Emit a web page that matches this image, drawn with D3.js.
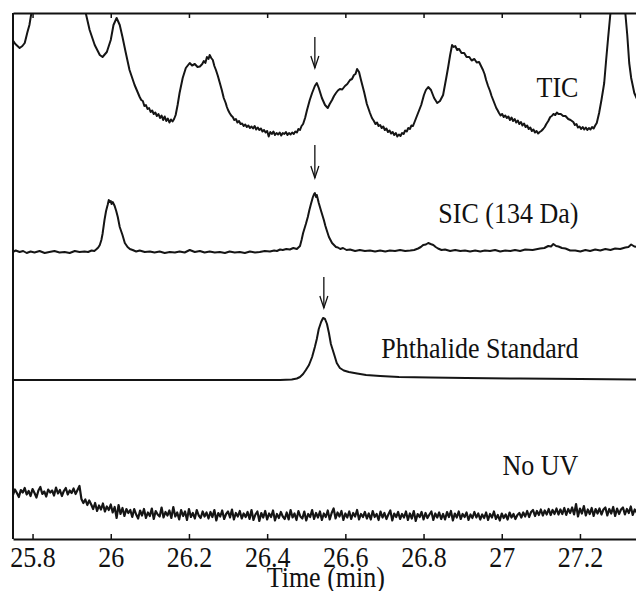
<!DOCTYPE html>
<html>
<head>
<meta charset="utf-8">
<script src="https://cdn.jsdelivr.net/npm/d3@7"></script>
<style>
  body { margin: 0; background: #fff; }
  svg { display: block; font-family: "Liberation Serif", "Times New Roman", serif; }
</style>
</head>
<body>
<svg id="chart"></svg>
<script>
// chromatogram traces, stacked (time in min, offset intensity)
var ticPoints = [[25.749,9.98],[25.756,9.90],[25.767,9.82],[25.774,9.86],[25.780,9.92],[25.787,10.14],[25.792,10.28],[25.797,10.52],[25.808,10.78],[25.869,11.98],[25.920,10.98],[25.936,10.52],[25.946,10.18],[25.959,9.88],[25.972,9.68],[25.979,9.64],[25.990,9.74],[26.000,9.98],[26.007,10.28],[26.015,10.42],[26.023,10.28],[26.030,10.04],[26.038,9.74],[26.048,9.38],[26.061,9.08],
  [26.074,8.84],[26.078,8.78],[26.082,8.76],[26.086,8.66],[26.090,8.68],[26.094,8.60],[26.098,8.62],[26.102,8.54],[26.106,8.57],[26.110,8.50],[26.114,8.53],[26.118,8.46],[26.122,8.50],[26.126,8.42],[26.130,8.47],[26.134,8.38],[26.138,8.45],[26.142,8.36],[26.146,8.41],[26.150,8.33],[26.154,8.39],[26.158,8.35],[26.162,8.40],[26.166,8.48],
  [26.171,8.68],[26.176,8.92],[26.184,9.22],[26.192,9.42],[26.202,9.52],[26.208,9.47],[26.215,9.50],[26.222,9.44],[26.228,9.45],[26.234,9.50],[26.238,9.56],[26.242,9.52],[26.246,9.64],[26.250,9.60],[26.253,9.68],[26.257,9.62],[26.261,9.58],[26.265,9.46],[26.269,9.38],[26.274,9.26],[26.279,9.12],[26.284,8.98],[26.289,8.82],[26.294,8.72],[26.297,8.64],
  [26.300,8.58],[26.304,8.52],[26.308,8.47],[26.312,8.44],[26.316,8.38],[26.320,8.40],[26.324,8.33],[26.328,8.36],[26.332,8.30],[26.336,8.31],[26.340,8.26],[26.344,8.29],[26.348,8.24],[26.352,8.27],[26.356,8.22],[26.360,8.25],[26.364,8.21],[26.368,8.26],[26.372,8.19],[26.376,8.23],[26.380,8.18],[26.384,8.21],[26.388,8.15],[26.392,8.18],[26.396,8.13],[26.400,8.16],[26.404,8.05],[26.408,8.14],[26.412,8.10],[26.416,8.15],[26.420,8.08],[26.424,8.12],[26.428,8.09],[26.432,8.13],[26.436,8.07],[26.440,8.12],[26.444,8.10],[26.448,8.14],[26.452,8.08],[26.456,8.12],[26.460,8.09],[26.464,8.13],[26.468,8.10],[26.472,8.15],[26.476,8.13],[26.480,8.20],[26.484,8.18],[26.488,8.26],[26.492,8.30],
  [26.497,8.42],[26.502,8.58],[26.509,8.78],[26.515,8.92],[26.522,9.06],[26.527,9.12],[26.532,9.02],[26.540,8.82],[26.548,8.68],[26.555,8.62],[26.560,8.70],[26.566,8.78],[26.571,8.86],[26.576,8.92],[26.581,8.97],[26.586,9.00],[26.592,8.99],[26.599,9.06],[26.605,9.10],[26.612,9.18],[26.617,9.20],[26.622,9.28],[26.626,9.30],[26.630,9.40],[26.635,9.34],[26.640,9.18],[26.648,8.94],[26.655,8.70],[26.663,8.52],[26.668,8.42],
  [26.673,8.36],[26.677,8.30],[26.681,8.33],[26.685,8.26],[26.689,8.28],[26.693,8.22],[26.697,8.25],[26.701,8.18],[26.705,8.21],[26.709,8.14],[26.713,8.17],[26.717,8.11],[26.721,8.14],[26.725,8.08],[26.729,8.12],[26.733,8.05],[26.737,8.09],[26.741,8.06],[26.745,8.12],[26.749,8.10],[26.753,8.17],[26.757,8.15],[26.761,8.22],[26.765,8.20],[26.769,8.27],[26.773,8.26],[26.777,8.34],[26.781,8.42],
  [26.794,8.68],[26.801,8.88],[26.806,8.98],[26.812,9.04],[26.819,8.98],[26.827,8.82],[26.835,8.72],[26.842,8.76],[26.850,8.88],[26.858,9.22],[26.863,9.44],[26.868,9.68],[26.873,9.88],[26.877,9.84],[26.881,9.86],[26.886,9.78],[26.891,9.80],[26.897,9.72],[26.904,9.72],[26.910,9.64],[26.917,9.64],[26.923,9.57],[26.930,9.60],[26.936,9.53],[26.942,9.54],[26.947,9.46],[26.952,9.38],[26.956,9.30],[26.960,9.18],[26.965,9.06],[26.970,8.96],[26.974,8.86],[26.978,8.78],[26.982,8.70],[26.986,8.62],[26.989,8.58],
  [26.993,8.52],[26.997,8.47],[27.001,8.50],[27.005,8.44],[27.009,8.47],[27.013,8.42],[27.017,8.45],[27.021,8.38],[27.025,8.43],[27.029,8.36],[27.033,8.40],[27.037,8.33],[27.041,8.37],[27.045,8.30],[27.049,8.34],[27.053,8.27],[27.057,8.31],[27.061,8.24],[27.065,8.27],[27.069,8.20],[27.073,8.23],[27.077,8.16],[27.081,8.19],[27.085,8.13],[27.089,8.16],[27.093,8.11],[27.097,8.14],[27.101,8.16],
  [27.106,8.20],[27.110,8.24],[27.114,8.30],[27.119,8.36],[27.124,8.44],[27.128,8.46],[27.132,8.50],[27.137,8.48],[27.141,8.53],[27.145,8.50],[27.151,8.50],[27.157,8.46],[27.163,8.46],[27.170,8.40],[27.176,8.38],
  [27.183,8.34],[27.187,8.28],[27.191,8.30],[27.195,8.23],[27.199,8.25],[27.203,8.20],[27.207,8.24],[27.211,8.19],[27.215,8.23],[27.219,8.18],[27.223,8.22],[27.227,8.19],[27.231,8.24],[27.235,8.21],[27.239,8.27],[27.243,8.32],
  [27.249,8.52],[27.255,8.78],[27.260,9.02],[27.262,9.12],[27.267,9.58],[27.272,10.02],[27.278,10.52],[27.295,11.78],[27.316,10.52],[27.321,10.08],[27.326,9.52],[27.331,9.22],[27.339,8.92],[27.347,8.78]];

var sicPoints = [[25.749,5.74],[25.757,5.77],[25.767,5.74],[25.776,5.76],[25.785,5.72],[25.795,5.75],[25.805,5.73],[25.818,5.76],[25.831,5.72],[25.843,5.74],[25.856,5.76],[25.869,5.73],[25.882,5.74],[25.895,5.72],[25.908,5.76],[25.920,5.74],[25.933,5.75],[25.942,5.74],[25.951,5.77],[25.958,5.76],[25.964,5.80],[25.968,5.83],[25.972,5.88],[25.976,5.98],[25.979,6.10],[25.984,6.38],[25.988,6.56],[25.992,6.68],[25.995,6.78],[25.997,6.74],[26.000,6.76],[26.002,6.70],[26.005,6.74],[26.010,6.66],[26.014,6.56],[26.018,6.44],[26.023,6.24],[26.030,6.08],[26.036,5.92],[26.043,5.84],[26.049,5.80],[26.056,5.78],[26.065,5.75],[26.074,5.77],[26.087,5.74],[26.100,5.75],[26.112,5.73],[26.125,5.75],[26.138,5.72],[26.151,5.74],[26.164,5.73],[26.176,5.75],[26.189,5.73],[26.202,5.78],[26.215,5.74],[26.228,5.76],[26.240,5.73],[26.253,5.75],[26.266,5.73],[26.279,5.74],[26.292,5.72],[26.304,5.75],[26.317,5.73],[26.330,5.74],[26.343,5.72],[26.356,5.75],[26.369,5.73],[26.381,5.74],[26.394,5.76],[26.407,5.75],[26.418,5.77],[26.425,5.76],[26.433,5.79],[26.440,5.78],[26.449,5.80],[26.458,5.79],[26.467,5.82],[26.476,5.80],[26.484,5.86],[26.488,5.98],[26.492,6.12],[26.499,6.30],[26.504,6.44],[26.508,6.58],[26.512,6.70],[26.517,6.84],[26.520,6.90],[26.522,6.92],[26.525,6.84],[26.527,6.88],[26.532,6.72],[26.538,6.56],[26.545,6.38],[26.549,6.26],[26.553,6.16],[26.558,6.04],[26.566,5.92],[26.571,5.88],[26.576,5.84],[26.581,5.83],[26.587,5.80],[26.594,5.82],[26.603,5.78],[26.612,5.79],[26.625,5.76],[26.637,5.78],[26.650,5.76],[26.663,5.77],[26.676,5.75],[26.689,5.77],[26.702,5.75],[26.714,5.77],[26.727,5.76],[26.740,5.78],[26.753,5.76],[26.766,5.77],[26.776,5.78],[26.786,5.81],[26.793,5.84],[26.799,5.88],[26.806,5.89],[26.812,5.92],[26.818,5.90],[26.825,5.88],[26.831,5.84],[26.837,5.81],[26.846,5.78],[26.855,5.79],[26.868,5.76],[26.881,5.78],[26.894,5.76],[26.906,5.77],[26.919,5.75],[26.932,5.77],[26.945,5.75],[26.957,5.77],[26.970,5.76],[26.983,5.78],[26.996,5.75],[27.009,5.77],[27.022,5.76],[27.034,5.78],[27.047,5.76],[27.060,5.79],[27.079,5.78],[27.098,5.81],[27.109,5.82],[27.119,5.86],[27.126,5.85],[27.132,5.90],[27.139,5.86],[27.145,5.85],[27.154,5.82],[27.163,5.81],[27.175,5.77],[27.188,5.77],[27.201,5.75],[27.214,5.78],[27.226,5.76],[27.239,5.79],[27.252,5.77],[27.265,5.80],[27.278,5.78],[27.290,5.81],[27.303,5.80],[27.316,5.83],[27.324,5.84],[27.331,5.89],[27.339,5.85],[27.347,5.84]];

var stdPoints = [[25.749,3.18],[25.972,3.18],[26.228,3.18],[26.433,3.18],[26.463,3.19],[26.476,3.21],[26.484,3.24],[26.492,3.30],[26.499,3.38],[26.507,3.48],[26.515,3.64],[26.522,3.84],[26.527,4.00],[26.532,4.20],[26.538,4.34],[26.543,4.42],[26.548,4.40],[26.553,4.30],[26.558,4.12],[26.563,3.90],[26.571,3.70],[26.578,3.52],[26.586,3.42],[26.596,3.37],[26.609,3.34],[26.630,3.31],[26.653,3.28],[26.689,3.26],[26.737,3.24],[26.817,3.23],[26.909,3.22],[27.047,3.21],[27.201,3.20],[27.347,3.19]];

// No UV trace, sampled every 0.005 min from 25.75
var noUvStart = 25.75;
var noUvStep = 0.005;
var noUvValues = [
  0.88,0.99,0.92,0.84,0.98,0.93,1.02,0.89,0.96,0.86,1.00,0.92,0.83,0.97,1.04,0.90,0.95,0.85,0.99,0.93,
  0.97,0.87,1.03,0.91,0.98,0.86,0.96,1.02,0.89,0.97,0.92,1.01,0.90,0.98,1.06,0.80,0.72,0.79,0.68,0.77,
  0.69,0.60,0.72,0.56,0.67,0.59,0.71,0.55,0.65,0.58,0.69,0.53,0.64,0.42,0.68,0.50,0.62,0.46,0.60,0.52,
  0.58,0.44,0.60,0.49,0.41,0.57,0.47,0.60,0.42,0.53,0.46,0.61,0.40,0.56,0.49,0.45,0.63,0.43,0.54,0.47,
  0.57,0.42,0.64,0.45,0.53,0.39,0.58,0.46,0.55,0.38,0.60,0.44,0.52,0.41,0.58,0.47,0.42,0.55,0.45,0.53,
  0.41,0.54,0.44,0.58,0.37,0.52,0.45,0.57,0.40,0.50,0.55,0.43,0.59,0.39,0.52,0.45,0.56,0.41,0.51,0.44,
  0.54,0.40,0.58,0.38,0.49,0.55,0.36,0.52,0.43,0.56,0.39,0.51,0.44,0.57,0.37,0.50,0.42,0.54,0.45,0.40,
  0.53,0.39,0.58,0.43,0.51,0.38,0.56,0.45,0.41,0.55,0.37,0.50,0.44,0.58,0.40,0.52,0.43,0.55,0.38,0.51,
  0.44,0.57,0.39,0.52,0.61,0.41,0.53,0.45,0.56,0.38,0.51,0.43,0.55,0.40,0.52,0.45,0.58,0.39,0.50,0.44,
  0.54,0.41,0.51,0.39,0.56,0.44,0.50,0.38,0.55,0.43,0.52,0.40,0.49,0.57,0.37,0.51,0.44,0.54,0.40,0.50,
  0.43,0.55,0.38,0.51,0.41,0.56,0.36,0.50,0.44,0.54,0.39,0.52,0.42,0.49,0.55,0.38,0.51,0.43,0.53,0.40,
  0.50,0.39,0.54,0.44,0.56,0.37,0.51,0.43,0.55,0.40,0.50,0.44,0.53,0.38,0.49,0.42,0.54,0.43,0.51,0.39,
  0.49,0.42,0.53,0.38,0.50,0.43,0.55,0.40,0.48,0.37,0.51,0.42,0.49,0.39,0.53,0.43,0.50,0.40,0.48,0.52,
  0.43,0.53,0.45,0.56,0.44,0.54,0.58,0.46,0.56,0.48,0.59,0.47,0.57,0.49,0.60,0.48,0.58,0.50,0.61,0.49,
  0.59,0.50,0.62,0.48,0.60,0.52,0.63,0.49,0.70,0.45,0.61,0.51,0.66,0.47,0.59,0.50,0.62,0.46,0.60,0.51,
  0.61,0.49,0.59,0.63,0.47,0.60,0.51,0.64,0.46,0.61,0.50,0.59,0.63,0.49,0.60,0.52,0.65,0.48,0.59,0.53,0.60
];

var xTicks = [25.8, 26, 26.2, 26.4, 26.6, 26.8, 27, 27.2];
var labelText = ["TIC", "SIC (134 Da)", "Phthalide Standard", "No UV"];
var labelY = [8.84, 6.32, 3.62, 1.28];
var labelX = 27.196;
var arrowTime = [26.522, 26.522, 26.545];
var arrowTop = [10.04, 7.88, 5.24];
var arrowTip = [9.42, 7.22, 4.62];

var svgWidth = 636;
var svgHeight = 591;
var plotLeft = 13, plotTop = 13, plotBottom = 539, plotRight = 638.6;
var textStretch = 1.12;

var svg = d3.select('#chart').attr("width", svgWidth).attr("height", svgHeight);
svg.append("rect").attr("width", svgWidth).attr("height", svgHeight).attr("fill", "#fff");

var x = d3.scaleLinear().domain([25.75, 27.35]).range([plotLeft, plotRight]);
var y = d3.scaleLinear().domain([0, 10.52]).range([plotBottom, plotTop]);

svg.append("clipPath").attr("id", "plotclip")
    .append("rect").attr("x", plotLeft).attr("y", plotTop)
    .attr("width", plotRight - plotLeft).attr("height", plotBottom - plotTop);

var noUvPoints = noUvValues.map(function (v, i) {
    return [noUvStart + i * noUvStep, v];
});

var line = d3.line()
    .x(function (d) { return x(d[0]); })
    .y(function (d) { return y(d[1]); });

var traces = svg.append("g").attr("clip-path", "url(#plotclip)");
traces.selectAll("path")
    .data([ticPoints, sicPoints, stdPoints, noUvPoints])
    .enter()
    .append("path")
    .attr("d", line)
    .attr("fill", "none")
    .attr("stroke", "#151515")
    .attr("stroke-width", function (d, i) { return i == 3 ? 2.2 : 2; })
    .attr("stroke-linejoin", "round");

// axes: matlab style box, inward ticks
var xAxis = d3.axisBottom(x).tickValues(xTicks).tickSizeInner(-5).tickSizeOuter(0)
    .tickFormat(function (d) { return String(d); });
var gx = svg.append("g").attr("transform", "translate(0," + plotBottom + ")").call(xAxis);
gx.attr("font-family", null).attr("font-size", null);
gx.selectAll("text").attr("y", 0).attr("dy", 0)
    .attr("transform", "translate(0,28) scale(1," + textStretch + ")")
    .attr("font-size", 26).attr("fill", "#111");
gx.selectAll("line").attr("stroke", "#111").attr("stroke-width", 1.5);
gx.select(".domain").attr("stroke", "#111").attr("stroke-width", 2);

var xTop = d3.axisTop(x).tickValues(xTicks).tickSizeInner(-5).tickSizeOuter(0).tickFormat("");
var gt = svg.append("g").attr("transform", "translate(0," + plotTop + ")").call(xTop);
gt.selectAll("line").attr("stroke", "#111").attr("stroke-width", 1.5);
gt.select(".domain").attr("stroke", "#111").attr("stroke-width", 2);

svg.append("line").attr("x1", plotLeft).attr("x2", plotLeft).attr("y1", plotTop).attr("y2", plotBottom)
    .attr("stroke", "#111").attr("stroke-width", 2);
svg.append("line").attr("x1", plotRight).attr("x2", plotRight).attr("y1", plotTop).attr("y2", plotBottom)
    .attr("stroke", "#111").attr("stroke-width", 2);

svg.append("text")
    .attr("transform", "translate(" + ((plotLeft + plotRight) / 2) + ",587) scale(1," + textStretch + ")")
    .attr("text-anchor", "middle").attr("font-size", 26).attr("fill", "#111")
    .text("Time (min)");

svg.selectAll(".trace-label")
    .data(labelText)
    .enter()
    .append("text")
    .attr("class", "trace-label")
    .attr("transform", function (d, i) {
        return "translate(" + x(labelX) + "," + y(labelY[i]) + ") scale(1," + textStretch + ")";
    })
    .attr("text-anchor", "end")
    .attr("font-size", 26)
    .attr("fill", "#111")
    .text(function (d) { return d; });

// arrows marking the phthalide peak
var arrows = svg.selectAll(".arrow")
    .data(arrowTime)
    .enter()
    .append("g")
    .attr("class", "arrow");
arrows.append("line")
    .attr("x1", function (d) { return x(d); })
    .attr("x2", function (d) { return x(d); })
    .attr("y1", function (d, i) { return y(arrowTop[i]); })
    .attr("y2", function (d, i) { return y(arrowTip[i]); })
    .attr("stroke", "#111").attr("stroke-width", 1.3);
arrows.append("path")
    .attr("d", function (d, i) {
        var ax = x(d), ay = y(arrowTip[i]);
        return "M" + (ax - 4) + "," + (ay - 12) + "L" + ax + "," + ay + "L" + (ax + 4) + "," + (ay - 12);
    })
    .attr("fill", "none").attr("stroke", "#111").attr("stroke-width", 1.3);
</script>
</body>
</html>
